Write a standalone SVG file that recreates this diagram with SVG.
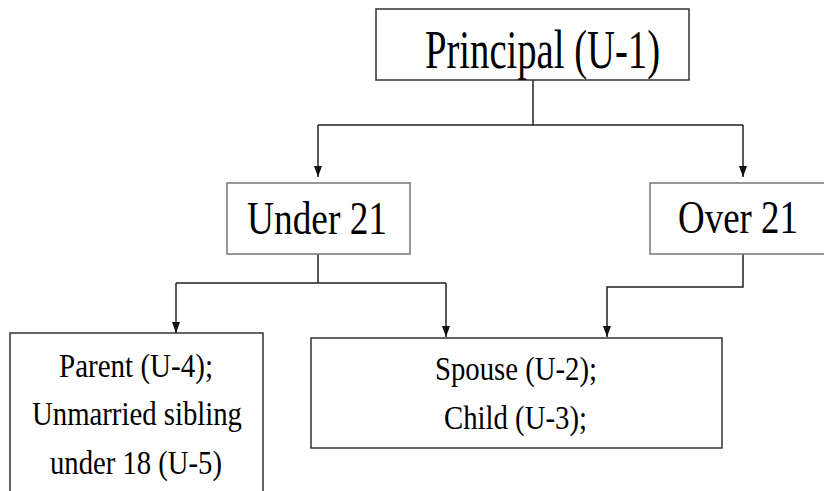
<svg xmlns="http://www.w3.org/2000/svg" width="824" height="491" viewBox="0 0 824 491">
<defs>
<marker id="arr" viewBox="0 0 11 8" refX="11" refY="4" markerWidth="11" markerHeight="8" markerUnits="userSpaceOnUse" orient="auto">
<path d="M0,0 L11,4 L0,8 Z" fill="#111"/>
</marker>
</defs>
<style>
.box{fill:#fff;stroke:#777;stroke-width:1.5}
.dark{stroke:#333}
.t{font-family:"Liberation Serif","Times New Roman",serif;fill:#000;text-anchor:start}
.conn{fill:none;stroke:#222;stroke-width:1.5}
</style>
<rect width="824" height="491" fill="#fff"/>
<g id="connectors">
<path class="conn" d="M533,80 V125"/>
<path class="conn" d="M318,125 H743"/>
<path class="conn" d="M318,125 V177" marker-end="url(#arr)"/>
<path class="conn" d="M743,125 V177" marker-end="url(#arr)"/>
<path class="conn" d="M318,254 V283 M176,283 H446"/>
<path class="conn" d="M176,283 V333" marker-end="url(#arr)"/>
<path class="conn" d="M446,283 V337" marker-end="url(#arr)"/>
<path class="conn" d="M743,254 V287 H607 V337" marker-end="url(#arr)"/>
</g>
<g id="principal">
<rect class="box dark" x="376" y="9" width="313" height="71"/>
<text class="t" x="425" y="68" font-size="54" textLength="235" lengthAdjust="spacingAndGlyphs">Principal (U-1)</text>
</g>
<g id="under21">
<rect class="box" x="227" y="183" width="183" height="71"/>
<text class="t" x="247" y="234" font-size="46" textLength="140" lengthAdjust="spacingAndGlyphs">Under 21</text>
</g>
<g id="over21">
<rect class="box" x="650" y="183" width="190" height="71"/>
<text class="t" x="678" y="233" font-size="46" textLength="120" lengthAdjust="spacingAndGlyphs">Over 21</text>
</g>
<g id="parent">
<rect class="box dark" x="10" y="333" width="253" height="180"/>
<text class="t" x="59" y="377" font-size="33" textLength="154" lengthAdjust="spacingAndGlyphs">Parent (U-4);</text>
<text class="t" x="32" y="425" font-size="33" textLength="210" lengthAdjust="spacingAndGlyphs">Unmarried sibling</text>
<text class="t" x="50" y="474" font-size="33" textLength="172" lengthAdjust="spacingAndGlyphs">under 18 (U-5)</text>
</g>
<g id="spouse">
<rect class="box dark" x="311" y="338" width="411" height="110"/>
<text class="t" x="435" y="380" font-size="33" textLength="162" lengthAdjust="spacingAndGlyphs">Spouse (U-2);</text>
<text class="t" x="444" y="429" font-size="33" textLength="143" lengthAdjust="spacingAndGlyphs">Child (U-3);</text>
</g>
</svg>
